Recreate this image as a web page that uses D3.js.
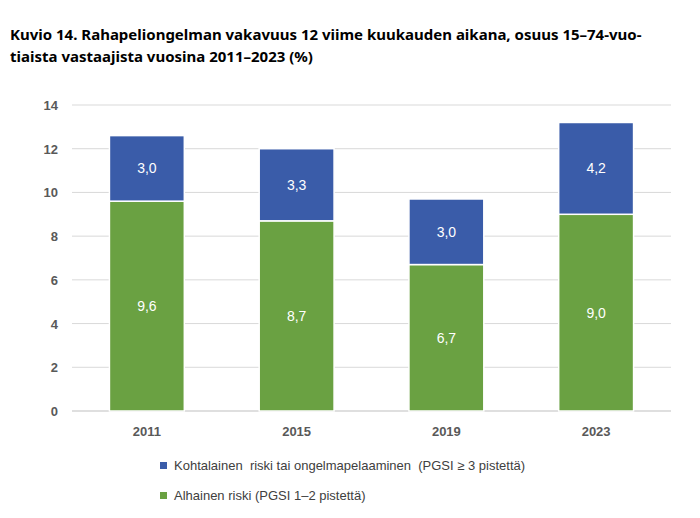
<!DOCTYPE html>
<html><head><meta charset="utf-8">
<script src="https://cdn.jsdelivr.net/npm/d3@7"></script>
<style>body{margin:0;background:#fff}</style>
</head><body><div id="chart"></div>
<script>
// data
var years = ["2011", "2015", "2019", "2023"];
var lowRisk = [9.6, 8.7, 6.7, 9.0];
var moderate = [3.0, 3.3, 3.0, 4.2];
var yTicks = [0, 2, 4, 6, 8, 10, 12, 14];
var legendLabels = ["Kohtalainen  riski tai ongelmapelaaminen  (PGSI ≥ 3 pistettä)", "Alhainen riski (PGSI 1–2 pistettä)"];
var colors = ["#3a5ca9", "#6aa142"];

var width = 700, height = 518;
var svg = d3.select("#chart").append("svg").attr("width", width).attr("height", height);

// title
var title = svg.append("text").attr("font-family", "Noto Sans").attr("font-weight", "bold")
  .attr("font-size", "15px").attr("fill", "#000");
title.append("tspan").attr("x", 10).attr("y", 40).text("Kuvio 14. Rahapeliongelman vakavuus 12 viime kuukauden aikana, osuus 15–74-vuo-");
title.append("tspan").attr("x", 10).attr("y", 62).text("tiaista vastaajista vuosina 2011–2023 (%)");

var x = d3.scaleBand().domain(years).range([72, 671]).paddingInner(0.5).paddingOuter(0.25);
var y = d3.scaleLinear().domain([0, 14]).range([411, 105]);

// gridlines
svg.selectAll(".grid").data(yTicks).enter().append("line")
  .attr("x1", 72).attr("x2", 671)
  .attr("y1", function(d) { return y(d); }).attr("y2", function(d) { return y(d); })
  .attr("stroke", function(d) { return d === 0 ? "#bfbfbf" : "#d9d9d9"; }).attr("stroke-width", 1);

// y labels
svg.selectAll(".ylab").data(yTicks).enter().append("text")
  .attr("x", 58).attr("y", function(d) { return y(d) + 5; })
  .attr("text-anchor", "end").attr("font-family", "Liberation Sans").attr("font-weight", "bold")
  .attr("font-size", "13px").attr("fill", "#595959").text(function(d) { return d; });

// x labels
svg.selectAll(".xlab").data(years).enter().append("text")
  .attr("x", function(d) { return x(d) + x.bandwidth() / 2; }).attr("y", 436)
  .attr("text-anchor", "middle").attr("font-family", "Liberation Sans").attr("font-weight", "bold")
  .attr("font-size", "13px").attr("fill", "#595959").text(function(d) { return d; });

var fmt = function(v) { return v.toFixed(1).replace(".", ","); };

// low risk bars
svg.selectAll(".low").data(years).enter().append("rect")
  .attr("x", function(d) { return x(d); }).attr("width", x.bandwidth())
  .attr("y", function(d, i) { return y(lowRisk[i]); })
  .attr("height", function(d, i) { return y(0) - y(lowRisk[i]); })
  .attr("fill", colors[1]).attr("stroke", "#fff").attr("stroke-width", 1.5);

// moderate bars
svg.selectAll(".mod").data(years).enter().append("rect")
  .attr("x", function(d) { return x(d); }).attr("width", x.bandwidth())
  .attr("y", function(d, i) { return y(lowRisk[i] + moderate[i]); })
  .attr("height", function(d, i) { return y(lowRisk[i]) - y(lowRisk[i] + moderate[i]); })
  .attr("fill", colors[0]).attr("stroke", "#fff").attr("stroke-width", 1.5);

// value labels
years.forEach(function(d, i) {
  var cx = x(d) + x.bandwidth() / 2;
  svg.append("text").attr("x", cx).attr("y", (y(0) + y(lowRisk[i])) / 2 + 5)
    .attr("text-anchor", "middle").attr("font-family", "Liberation Sans").attr("font-size", "14px")
    .attr("fill", "#fff").text(fmt(lowRisk[i]));
  svg.append("text").attr("x", cx).attr("y", (y(lowRisk[i]) + y(lowRisk[i] + moderate[i])) / 2 + 5)
    .attr("text-anchor", "middle").attr("font-family", "Liberation Sans").attr("font-size", "14px")
    .attr("fill", "#fff").text(fmt(moderate[i]));
});

// legend
legendLabels.forEach(function(t, i) {
  var ly = 466 + i * 30;
  svg.append("rect").attr("x", 160).attr("y", ly - 4).attr("width", 7).attr("height", 7).attr("fill", colors[i]);
  svg.append("text").attr("x", 174).attr("y", ly + 4).attr("font-family", "Liberation Sans")
    .attr("font-size", "13px").attr("fill", "#404040").attr("xml:space", "preserve").style("white-space", "pre").text(t);
});
</script></body></html>
